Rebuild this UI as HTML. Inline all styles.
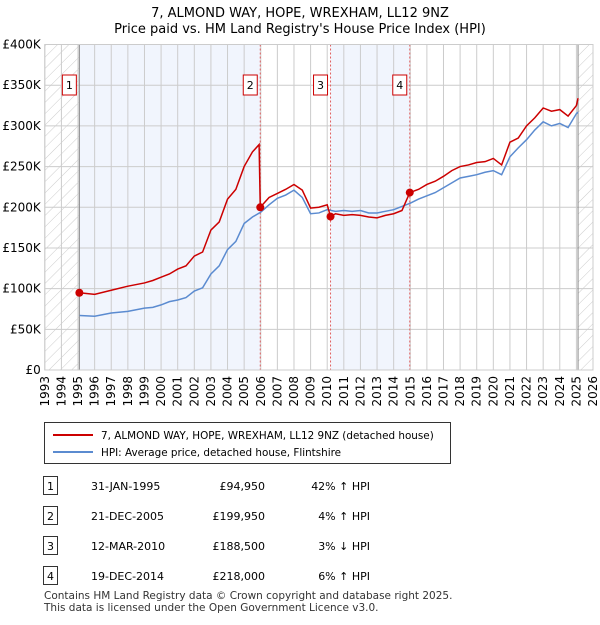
<!DOCTYPE html>
<html><head><meta charset="utf-8"><style>
body{margin:0;background:#fff;font-family:"Liberation Sans","DejaVu Sans",sans-serif;}
svg text{font-family:"DejaVu Sans","Liberation Sans",sans-serif;}
</style></head><body>
<svg width="600" height="620" viewBox="0 0 600 620" xmlns="http://www.w3.org/2000/svg">
<defs><pattern id="h" width="8" height="8" patternUnits="userSpaceOnUse" patternTransform="rotate(45)"><line x1="0" y1="0" x2="0" y2="8" stroke="#ccc" stroke-width="1"/></pattern></defs>
<text x="300" y="17" text-anchor="middle" font-size="13">7, ALMOND WAY, HOPE, WREXHAM, LL12 9NZ</text>
<text x="300" y="33" text-anchor="middle" font-size="13">Price paid vs. HM Land Registry's House Price Index (HPI)</text>
<g id="plot"></g>
<g id="legend">
<rect x="44.5" y="422.5" width="406" height="41" fill="#fff" stroke="#333"/>
<line x1="53" y1="435" x2="93" y2="435" stroke="#cc0000" stroke-width="2"/>
<text x="101" y="439" font-size="10.4">7, ALMOND WAY, HOPE, WREXHAM, LL12 9NZ (detached house)</text>
<line x1="53" y1="452" x2="93" y2="452" stroke="#5b8bd0" stroke-width="2"/>
<text x="101" y="456" font-size="10.4">HPI: Average price, detached house, Flintshire</text>
</g>
<g id="table" font-size="11"></g>
<text x="44" y="599" font-size="10.5" fill="#333">Contains HM Land Registry data © Crown copyright and database right 2025.</text>
<text x="44" y="611" font-size="10.5" fill="#333">This data is licensed under the Open Government Licence v3.0.</text>
</svg>
<script>
const hpiYears=[1995.1,1996,1997,1998,1999,1999.5,2000,2000.5,2001,2001.5,2002,2002.5,2003,2003.5,2004,2004.5,2005,2005.5,2006,2006.5,2007,2007.5,2008,2008.5,2009,2009.5,2010,2010.5,2011,2011.5,2012,2012.5,2013,2013.5,2014,2014.5,2015,2015.5,2016,2016.5,2017,2017.5,2018,2018.5,2019,2019.5,2020,2020.5,2021,2021.5,2022,2022.5,2023,2023.5,2024,2024.5,2025,2025.1];
const hpiValues=[67,66,70,72,76,77,80,84,86,89,97,101,118,128,148,158,180,188,194,203,211,215,221,212,192,193,197,195,196,195,196,193,193,195,197,201,205,210,214,218,224,230,236,238,240,243,245,240,262,273,283,295,305,300,303,298,315,317];
const priceYears=[1995.08,1996,1997,1998,1999,1999.5,2000,2000.5,2001,2001.5,2002,2002.5,2003,2003.5,2004,2004.5,2005,2005.5,2005.9,2005.97,2006.5,2007,2007.5,2008,2008.5,2009,2009.5,2010,2010.2,2010.5,2011,2011.5,2012,2012.5,2013,2013.5,2014,2014.5,2014.97,2015.5,2016,2016.5,2017,2017.5,2018,2018.5,2019,2019.5,2020,2020.5,2021,2021.5,2022,2022.5,2023,2023.5,2024,2024.5,2025,2025.1];
const priceValues=[95,93,98,103,107,110,114,118,124,128,140,145,172,182,210,222,250,268,277,200,212,217,222,228,221,199,200,203,188.5,192,190,191,190,188,187,190,192,196,218,222,228,232,238,245,250,252,255,256,260,252,280,285,300,310,322,318,320,312,325,334];
const saleLabels=["1","2","3","4"];
const saleYears=[1995.08,2005.97,2010.2,2014.97];
const saleValues=[94.95,199.95,188.5,218];
const saleDates=["31-JAN-1995","21-DEC-2005","12-MAR-2010","19-DEC-2014"];
const salePrices=["£94,950","£199,950","£188,500","£218,000"];
const saleHpi=["42% ↑ HPI","4% ↑ HPI","3% ↓ HPI","6% ↑ HPI"];
const yTicks=[0,50,100,150,200,250,300,350,400];
const yTickLabels=["£0","£50K","£100K","£150K","£200K","£250K","£300K","£350K","£400K"];

const X0=44.8,X1=593,Y0=370,Y1=44.5,YMIN=1993,YMAX=2026;
const x=v=>X0+(v-YMIN)/(YMAX-YMIN)*(X1-X0);
const y=v=>Y0-v/400*(Y0-Y1);
const NS="http://www.w3.org/2000/svg";
const plot=document.getElementById('plot');
function mk(t,a,p){const e=document.createElementNS(NS,t);for(const k in a)e.setAttribute(k,a[k]);(p||plot).appendChild(e);return e;}
let e;
e=mk('rect',{x:x(1995.08),y:Y1,width:x(2005.97)-x(1995.08),height:Y0-Y1,fill:'#eef3fd',opacity:0.8});


e=mk('rect',{x:x(2010.2),y:Y1,width:x(2014.97)-x(2010.2),height:Y0-Y1,fill:'#eef3fd',opacity:0.8});


e=mk('rect',{x:X0,y:Y1,width:x(1995.08)-X0,height:Y0-Y1,fill:'url(#h)'});


e=mk('rect',{x:x(2025.1),y:Y1,width:X1-x(2025.1),height:Y0-Y1,fill:'url(#h)'});


for(let yr=1993;yr<=2026;yr++){
 e=mk('line',{x1:x(yr),x2:x(yr),y1:Y1,y2:Y0,stroke:'#ccc'});
 
 
 e=mk('text',{x:0,y:0,'font-size':12,'text-anchor':'end',transform:`translate(${x(yr)+4},${Y0+6}) rotate(-90)`});
 e.textContent=yr;
 
 
}
yTicks.forEach((t,i)=>{
 e=mk('line',{x1:X0,x2:X1,y1:y(t),y2:y(t),stroke:'#ccc'});
 
 
 e=mk('text',{x:X0-4,y:y(t)+4,'font-size':12,'text-anchor':'end'});
 e.textContent=yTickLabels[i];
 
 
});
e=mk('line',{x1:x(1995.08),x2:x(1995.08),y1:Y1,y2:Y0,stroke:'#888'});


e=mk('line',{x1:x(2025.1),x2:x(2025.1),y1:Y1,y2:Y0,stroke:'#888'});


saleYears.forEach((s,i)=>{
 if(i>0){e=mk('line',{x1:x(s),x2:x(s),y1:Y1,y2:Y0,stroke:'#e06060','stroke-dasharray':'2,2'});
 
 }
});
e=mk('polyline',{points:hpiYears.map((t,i)=>x(t)+','+y(hpiValues[i])).join(' '),fill:'none',stroke:'#5b8bd0','stroke-width':1.5});


e=mk('polyline',{points:priceYears.map((t,i)=>x(t)+','+y(priceValues[i])).join(' '),fill:'none',stroke:'#cc0000','stroke-width':1.5});


saleYears.forEach((s,i)=>{
 e=mk('circle',{cx:x(s),cy:y(saleValues[i]),r:4,fill:'#cc0000'});
 
 
 e=mk('rect',{x:x(s)-17,y:75,width:14,height:20,fill:'#fff',stroke:'#cc0000'});
 
 
 e=mk('text',{x:x(s)-10,y:89,'font-size':11,'text-anchor':'middle'});
 e.textContent=saleLabels[i];
 
 
});
e=mk('rect',{x:X0,y:Y1,width:X1-X0,height:Y0-Y1,fill:'none',stroke:'#ccc'});


const tb=document.getElementById('table');
saleLabels.forEach((l,i)=>{
 const cy=486+i*30;
 e=mk('rect',{x:43.5,y:cy-9.5,width:14,height:18,fill:'#fff',stroke:'#333'},tb);
 
 
 e=mk('text',{x:50.5,y:cy+4,'text-anchor':'middle'},tb);e.textContent=l;
 
 
 e=mk('text',{x:91,y:cy+4},tb);e.textContent=saleDates[i];
 
 
 e=mk('text',{x:265,y:cy+4,'text-anchor':'end'},tb);e.textContent=salePrices[i];
 
 
 e=mk('text',{x:370,y:cy+4,'text-anchor':'end'},tb);e.textContent=saleHpi[i];
 
 
});
</script>
</body></html>
